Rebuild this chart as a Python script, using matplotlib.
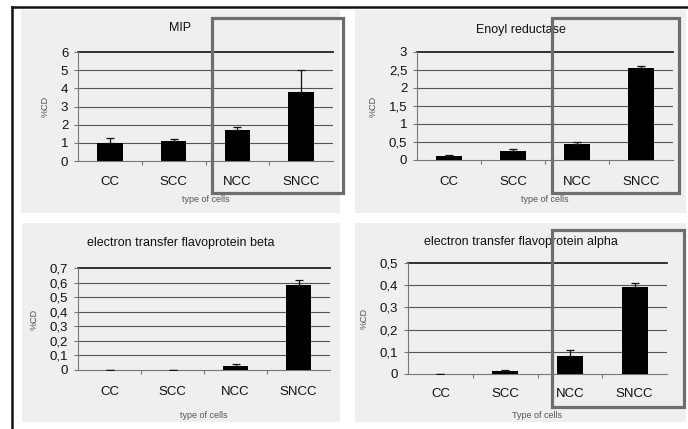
import numpy as np
import matplotlib.pyplot as plt
from matplotlib.patches import Rectangle
from matplotlib.lines import Line2D

plt.rcParams['font.family'] = ['Liberation Sans', 'DejaVu Sans']

categories = ['CC', 'SCC', 'NCC', 'SNCC']

titles = ['MIP', 'Enoyl reductase',
          'electron transfer flavoprotein beta', 'electron transfer flavoprotein alpha']
xlabels = ['type of cells', 'type of cells', 'type of cells', 'Type of cells']

mip = [1.0, 1.1, 1.7, 3.8]
mip_err = [0.25, 0.1, 0.15, 1.2]
enoyl = [0.1, 0.25, 0.45, 2.55]
enoyl_err = [0.03, 0.05, 0.05, 0.07]
etf_beta = [0.0, 0.0, 0.025, 0.58]
etf_beta_err = [0.0, 0.0, 0.015, 0.04]
etf_alpha = [0.0, 0.015, 0.08, 0.39]
etf_alpha_err = [0.0, 0.005, 0.03, 0.02]

yticks = [[0, 1, 2, 3, 4, 5, 6],
          [0, 0.5, 1, 1.5, 2, 2.5, 3],
          [0, 0.1, 0.2, 0.3, 0.4, 0.5, 0.6, 0.7],
          [0, 0.1, 0.2, 0.3, 0.4, 0.5]]
yticklabels = [['0', '1', '2', '3', '4', '5', '6'],
               ['0', '0,5', '1', '1,5', '2', '2,5', '3'],
               ['0', '0,1', '0,2', '0,3', '0,4', '0,5', '0,6', '0,7'],
               ['0', '0,1', '0,2', '0,3', '0,4', '0,5']]

values = [mip, enoyl, etf_beta, etf_alpha]
errors = [mip_err, enoyl_err, etf_beta_err, etf_alpha_err]

W, H = 688, 429
fig = plt.figure(figsize=(W / 100, H / 100), dpi=100)
fig.patch.set_facecolor('white')


def px_rect(l, t, r, b):
    return [l / W, 1 - b / H, (r - l) / W, (b - t) / H]


# panel backgrounds (left, top, right, bottom in pixels)
panels = [(21, 10, 340, 213), (355, 10, 686, 213), (22, 223, 340, 422), (355, 223, 686, 422)]
for (l, t, r, b) in panels:
    fig.patches.append(Rectangle((l / W, 1 - b / H), (r - l) / W, (b - t) / H,
                                 transform=fig.transFigure, facecolor='#efefef',
                                 edgecolor='none', zorder=-10))

axes_px = [(78, 52, 333, 161), (417, 52, 673, 160), (78, 268, 330, 370), (408, 263, 667, 374)]
title_y = [28, 30, 243, 242]
xtick_y = [182, 182, 392, 394]
xlab_y = [200, 200, 415, 415]

x = np.arange(len(categories))
for i in range(4):
    l, t, r, b = axes_px[i]
    ax = fig.add_axes(px_rect(l, t, r, b))
    ax.set_zorder(2)
    ax.set_facecolor('none')
    ymax = yticks[i][-1]
    ax.bar(x, values[i], width=0.4, color='black', zorder=3)
    ax.errorbar(x, values[i], yerr=[np.zeros(4), errors[i]], fmt='none',
                ecolor='#111111', elinewidth=0.9, capsize=3, capthick=0.9, zorder=4)
    ax.set_xlim(-0.5, 3.5)
    ax.set_ylim(0, ymax)
    ax.set_yticks(yticks[i])
    ax.set_yticklabels(yticklabels[i], fontsize=9.5, color='#111111')
    for yv in yticks[i][1:-1]:
        ax.axhline(yv, color='#555555', lw=0.8, zorder=1)
    ax.axhline(ymax, color='#222222', lw=1.3, zorder=1, clip_on=False)
    for s in ['top', 'right']:
        ax.spines[s].set_visible(False)
    ax.spines['left'].set_color('#777777')
    ax.spines['bottom'].set_color('#777777')
    ax.set_xticks([0.5, 1.5, 2.5])
    ax.set_xticklabels([])
    ax.tick_params(axis='x', length=3, color='#777777', direction='out')
    ax.tick_params(axis='y', length=3, color='#777777', direction='out', pad=4)
    # category labels
    for xi, c in zip(x, categories):
        xf = (l + (r - l) * (xi + 0.5) / 4) / W
        fig.text(xf, 1 - xtick_y[i] / H, c, ha='center', va='center',
                 fontsize=9.5, color='#111111')
    pl, pt, pr, pb = panels[i]
    fig.text((pl + pr) / 2 / W, 1 - title_y[i] / H, titles[i], ha='center', va='center',
             fontsize=9, color='#111111')
    fig.text((l + r) / 2 / W, 1 - xlab_y[i] / H, xlabels[i], ha='center', va='center',
             fontsize=6.5, color='#555555')
    ax.set_ylabel('%CD', fontsize=6.5, color='#555555', labelpad=8)

# highlight boxes
boxes = [(212, 18, 343, 193), (552, 18, 679, 193), (552, 230, 684, 407)]
for (l, t, r, b) in boxes:
    fig.patches.append(Rectangle((l / W, 1 - b / H), (r - l) / W, (b - t) / H,
                                 transform=fig.transFigure, facecolor='none',
                                 edgecolor='#6e6e6e', lw=2.3, zorder=10))

# outer frame lines
fig.lines.append(Line2D([12 / W, 1], [1 - 7 / H, 1 - 7 / H], transform=fig.transFigure,
                        color='#111111', lw=1.8))
fig.lines.append(Line2D([12 / W, 12 / W], [0, 1 - 7 / H], transform=fig.transFigure,
                        color='#111111', lw=1.8))

fig.savefig('out.png', dpi=100)
